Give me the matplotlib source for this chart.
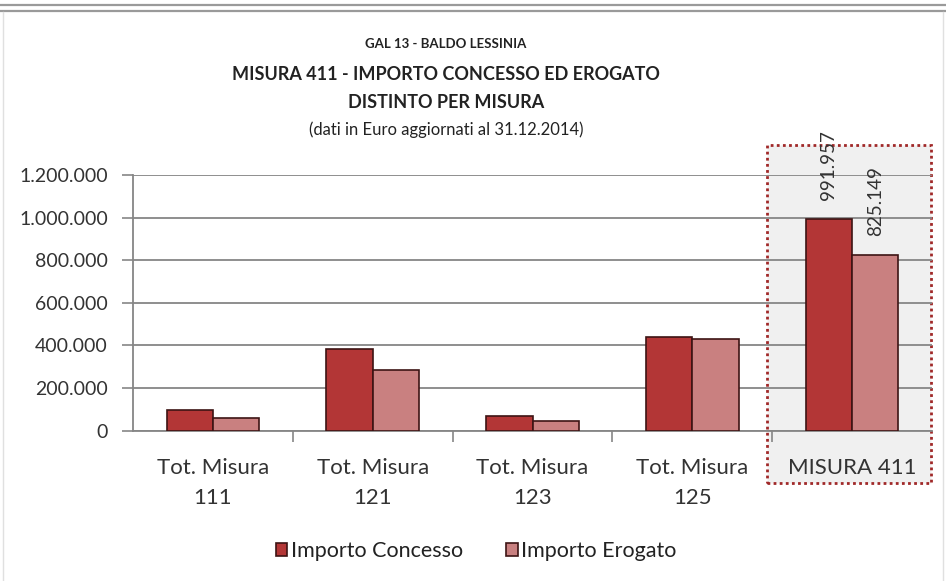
import numpy as np
import matplotlib.pyplot as plt
from matplotlib.patches import Rectangle
from matplotlib.lines import Line2D
from matplotlib.ticker import FuncFormatter

plt.rcParams['font.family'] = ['Lato', 'DejaVu Sans']

# Data (Euro)
categories = ['Tot. Misura\n111', 'Tot. Misura\n121', 'Tot. Misura\n123', 'Tot. Misura\n125', 'MISURA 411']
concesso = [98000, 385000, 70000, 438957, 991957]
erogato = [60000, 287000, 47000, 431149, 825149]
series_names = ['Importo Concesso', 'Importo Erogato']
yticks = [0, 200000, 400000, 600000, 800000, 1000000, 1200000]

c_conc = '#b33636'
c_erog = '#c98080'
edge = '#3d1414'
grid_c = '#868686'
txt_c = '#333333'

fig = plt.figure(figsize=(9.46, 5.81), dpi=100)
W, H = 946, 581

def fx(px):
    return px / W

def fy(py):
    return 1 - py / H

# outer frame lines
fig.add_artist(Line2D([0, 1], [fy(5), fy(5)], color='#9a9a9a', lw=1.6))
fig.add_artist(Line2D([0, 1], [fy(11), fy(11)], color='#9a9a9a', lw=1.6))
fig.add_artist(Line2D([fx(3), fx(3)], [fy(12), 0], color='#e0e0e0', lw=1))
fig.add_artist(Line2D([fx(943), fx(943)], [fy(12), 0], color='#e0e0e0', lw=1))

# highlight box around MISURA 411
box = Rectangle((fx(767), fy(483)), fx(931) - fx(767), fy(145) - fy(483),
                transform=fig.transFigure, facecolor='#f0f0f0',
                edgecolor='#a02828', linestyle=(0, (1, 1.2)), lw=2, zorder=-1)
fig.add_artist(box)

ax = fig.add_axes([fx(133), fy(430.7), fx(932) - fx(133), fy(175) - fy(430.7)])
ax.set_facecolor('none')

x = np.arange(len(categories))
bw = 0.29
ax.bar(x - bw / 2, concesso, bw, color=c_conc, edgecolor=edge, lw=1.2,
       label=series_names[0], zorder=3)
ax.bar(x + bw / 2, erogato, bw, color=c_erog, edgecolor=edge, lw=1.2,
       label=series_names[1], zorder=3)

# labels on the last group
ax.text(x[-1] - bw / 2, concesso[-1] + 90000, f'{concesso[-1]:,}'.replace(',', '.'),
        rotation=90, ha='center', va='bottom', fontsize=13.5, color=txt_c, zorder=4)
ax.text(x[-1] + bw / 2, erogato[-1] + 90000, f'{erogato[-1]:,}'.replace(',', '.'),
        rotation=90, ha='center', va='bottom', fontsize=13.5, color=txt_c, zorder=4)

ax.set_xlim(-0.5, len(categories) - 0.5)
ax.set_ylim(0, 1200000)
ax.set_yticks(yticks)
ax.yaxis.set_major_formatter(FuncFormatter(lambda v, p: f'{int(v):,}'.replace(',', '.')))
ax.yaxis.grid(True, color=grid_c, lw=1.3, zorder=0)
ax.set_axisbelow(True)

ax.set_xticks(x)
ax.set_xticklabels(categories, fontsize=16, color=txt_c, linespacing=1.6)
ax.set_xticks(np.arange(len(categories) - 1) + 0.5, minor=True)
ax.tick_params(axis='x', which='major', length=0, pad=20)
ax.tick_params(axis='x', which='minor', length=8, color=grid_c, width=1.2)
ax.tick_params(axis='y', length=8, color=grid_c, width=1.2, labelsize=14,
               labelcolor=txt_c, pad=10)
for s in ['top', 'right']:
    ax.spines[s].set_visible(False)
ax.spines['left'].set_color(grid_c)
ax.spines['left'].set_linewidth(1.3)
ax.spines['bottom'].set_color(grid_c)
ax.spines['bottom'].set_linewidth(1.3)

# titles
cx = fx(446)
fig.text(cx, fy(44), 'GAL 13 - BALDO LESSINIA', ha='center', va='center',
         fontsize=9.5, fontweight='bold', color='#222222')
fig.text(cx, fy(74), 'MISURA 411 - IMPORTO CONCESSO ED EROGATO', ha='center',
         va='center', fontsize=13, fontweight='bold', color='#222222')
fig.text(cx, fy(103), 'DISTINTO PER MISURA', ha='center', va='center',
         fontsize=13, fontweight='bold', color='#222222')
fig.text(cx, fy(130), '(dati in Euro aggiornati al 31.12.2014)', ha='center',
         va='center', fontsize=12, color='#222222')

leg = fig.legend(loc='center', bbox_to_anchor=(fx(476), fy(551)), ncol=2, frameon=False,
                 fontsize=15.5, handlelength=0.55, handleheight=0.55, handletextpad=0.15,
                 columnspacing=2.0)
for t in leg.get_texts():
    t.set_color('#222222')

fig.savefig('out.png', dpi=100, facecolor='white')
